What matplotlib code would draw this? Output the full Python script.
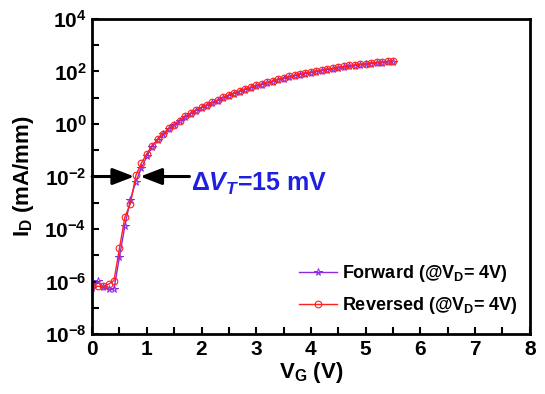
import numpy as np
import matplotlib.pyplot as plt
from matplotlib.ticker import FixedLocator, MultipleLocator, NullFormatter

plt.rcParams['font.family'] = ['Liberation Sans', 'DejaVu Sans']
plt.rcParams['font.weight'] = 'bold'
plt.rcParams['mathtext.fontset'] = 'custom'
plt.rcParams['mathtext.rm'] = 'Liberation Sans:bold'
plt.rcParams['mathtext.bf'] = 'Liberation Sans:bold'
plt.rcParams['mathtext.it'] = 'Liberation Sans:bold:italic'

# gate voltage sweep (V)
vg = np.round(np.arange(0, 5.51, 0.1), 2)

# log10 of drain current (mA/mm), reverse sweep
log_id_rev = [-6.15, -6.18, -6.18, -6.10, -5.96, -4.73, -3.54, -3.03, -1.96, -1.49,
              -1.13, -0.82, -0.58, -0.37, -0.17, -0.02, 0.13, 0.29, 0.41, 0.54,
              0.64, 0.73, 0.83, 0.92, 1.02, 1.11, 1.19, 1.26, 1.34, 1.40,
              1.47, 1.53, 1.59, 1.64, 1.71, 1.76, 1.81, 1.86, 1.91, 1.95,
              1.98, 2.02, 2.06, 2.10, 2.12, 2.16, 2.19, 2.23, 2.25, 2.28,
              2.30, 2.33, 2.35, 2.36, 2.39, 2.40]

# log10 of drain current (mA/mm), forward sweep
log_id_fwd = [-6.24, -5.99, -6.22, -6.30, -6.28, -5.07, -3.87, -2.88, -2.19, -1.68,
              -1.23, -0.86, -0.61, -0.40, -0.20, -0.05, 0.10, 0.26, 0.38, 0.51,
              0.61, 0.70, 0.80, 0.89, 0.99, 1.08, 1.16, 1.23, 1.31, 1.37,
              1.44, 1.50, 1.56, 1.61, 1.68, 1.73, 1.78, 1.83, 1.88, 1.92,
              1.95, 1.99, 2.03, 2.07, 2.09, 2.13, 2.16, 2.20, 2.22, 2.25,
              2.27, 2.30, 2.32, 2.33, 2.36, 2.37]

id_rev = 10.0 ** np.array(log_id_rev)
id_fwd = 10.0 ** np.array(log_id_fwd)

fig = plt.figure(figsize=(5.45, 3.94), dpi=100)
ax = fig.add_axes([0.169, 0.152, 0.803, 0.800])

sub = '$_{\\mathregular{D}}$'
ax.plot(vg, id_fwd, color='#8a2be2', lw=1.0, marker='*', ms=5.5, mfc='none',
        mec='#8a2be2', mew=0.7, label='Forward (@V' + sub + '= 4V)')
ax.plot(vg, id_rev, color='#ff2020', lw=1.0, marker='o', ms=4.8, mfc='none',
        mec='#ff2020', mew=0.8, label='Reversed (@V' + sub + '= 4V)')

# threshold shift arrows at 1e-2 mA/mm
head = '-|>,head_length=1.3,head_width=0.5'
ax.annotate('', xy=(0.77, 1e-2), xytext=(0.0, 1e-2),
            arrowprops=dict(arrowstyle=head, color='black', lw=2.2,
                            shrinkA=0, shrinkB=0))
ax.annotate('', xy=(0.88, 1e-2), xytext=(1.78, 1e-2),
            arrowprops=dict(arrowstyle=head, color='black', lw=2.2,
                            shrinkA=0, shrinkB=0))
ax.annotate('$\\Delta \\mathit{V}_{\\mathit{T}}$=15 mV', xy=(1.8, 1e-2),
            xytext=(0, -5), textcoords='offset points', color='#1f1fe0',
            fontsize=18, fontweight='bold', va='center', ha='left')

ax.set_yscale('log')
ax.set_xlim(0, 8)
ax.set_ylim(1e-8, 1e4)
ax.xaxis.set_major_locator(MultipleLocator(1))
ax.xaxis.set_minor_locator(MultipleLocator(0.5))
ax.yaxis.set_major_locator(FixedLocator([10.0 ** k for k in range(-8, 5, 2)]))
ax.yaxis.set_minor_locator(FixedLocator([10.0 ** k for k in range(-7, 4, 2)]))
ax.yaxis.set_minor_formatter(NullFormatter())
ax.set_yticklabels(['$10^{%d}$' % k for k in range(-8, 5, 2)])
ax.tick_params(which='both', direction='in', width=1.5, top=False, right=False)
ax.tick_params(which='major', length=5, labelsize=15, pad=4)
ax.tick_params(which='minor', length=5)
for lab in ax.get_xticklabels():
    lab.set_fontweight('bold')
for s in ax.spines.values():
    s.set_linewidth(2)

ax.set_xlabel('V$_{\\mathregular{G}}$ (V)', fontsize=16, fontweight='bold', labelpad=1)
ax.set_ylabel('I$_{\\mathregular{D}}$ (mA/mm)', fontsize=16, fontweight='bold', labelpad=6)

ax.legend(loc='lower right', bbox_to_anchor=(1.01, 0.005), frameon=False,
          prop={'size': 13, 'weight': 'bold'}, handlelength=2.1, handletextpad=0.3,
          labelspacing=0.6)

fig.savefig('out.png', dpi=100)
